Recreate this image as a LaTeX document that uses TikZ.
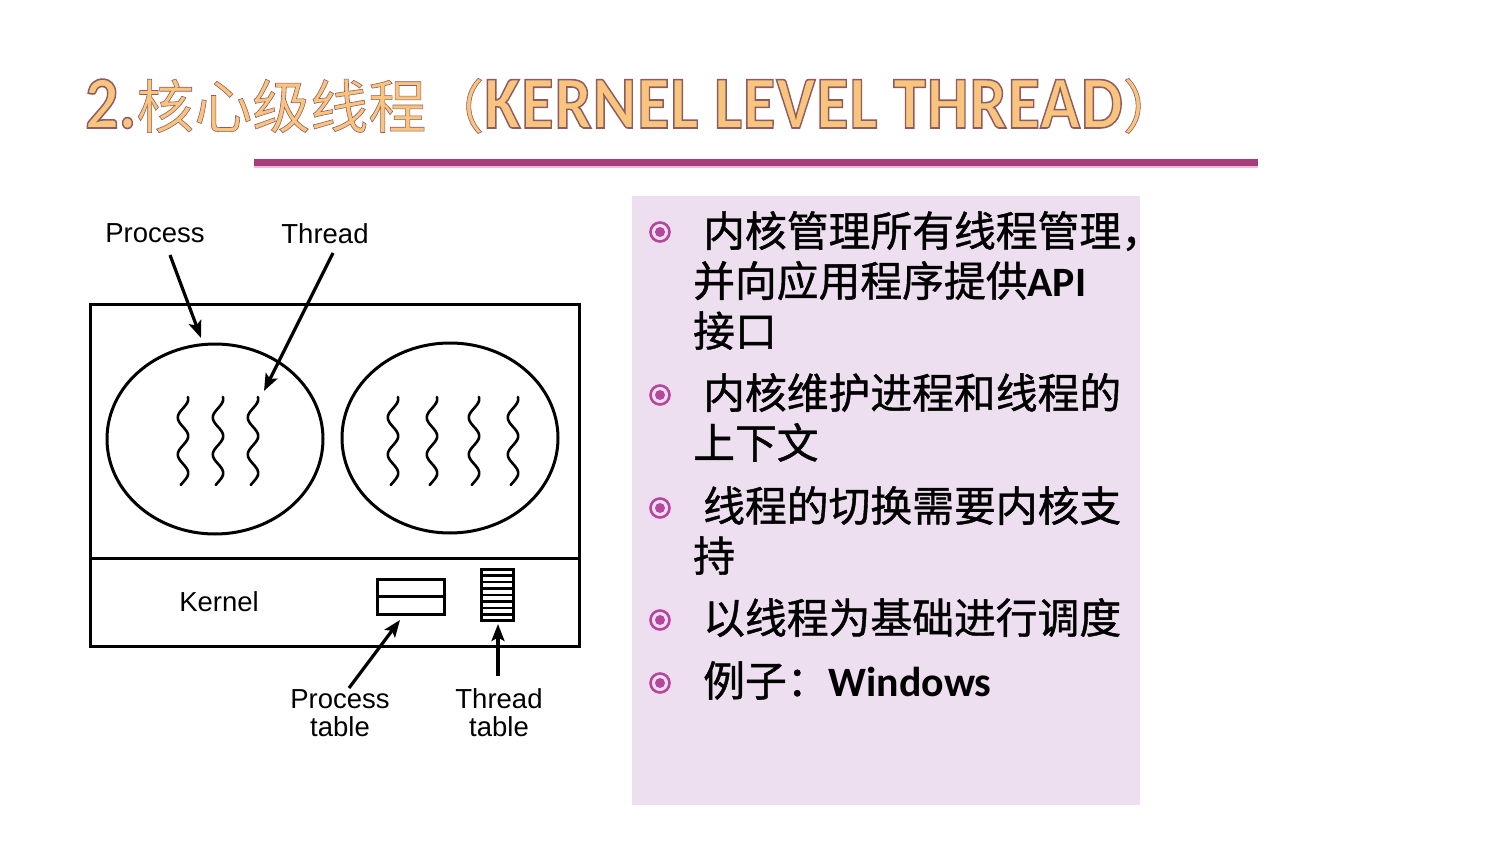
\documentclass[tikz,border=0pt]{standalone}
\usepackage{fontspec}
\usepackage{graphicx}
\usetikzlibrary{arrows.meta,shapes.geometric}
\setmainfont{Liberation Sans}
\newfontfamily\cjkbody[FakeBold=1]{Noto Sans CJK SC}
\newfontfamily\calfont{Carlito}

\definecolor{titlefill}{HTML}{F9C47E}
\definecolor{barcol}{HTML}{A63C79}
\definecolor{barglow}{HTML}{F2B8DC}
\definecolor{panelcol}{HTML}{EEDFF0}
\definecolor{bulletcol}{HTML}{B3489E}

% filled glyphs with a thin dark outline (text render mode 2)
\newcommand\rimmed[1]{\special{pdf:code 2 Tr 1.4 w 0.55 0.36 0.38 RG}#1\special{pdf:code 0 Tr}}

% heading, mixed CJK / Latin
\newcommand\headline{%
  {\calfont\bfseries\fontsize{66}{70}\selectfont\scalebox{1}[1.13]{\rimmed{2.}}}%
  {\cjkbody\fontsize{58}{60}\selectfont \rimmed{核心级线程（}}%
  {\calfont\bfseries\fontsize{66}{70}\selectfont\addfontfeature{LetterSpace=1.5}\scalebox{1}[1.13]{\rimmed{KERNEL LEVEL THREAD}}}%
  {\cjkbody\fontsize{58}{60}\selectfont \rimmed{）}}}

\tikzset{
  heading/.style={anchor=base west, inner sep=0pt},
  boxline/.style={draw=black, line width=3pt, inner sep=0pt},
  procshape/.style={ellipse, draw=black, line width=3pt, minimum width=216pt, minimum height=190pt, inner sep=0pt},
  squigline/.style={line width=2.6pt, line cap=round},
  arr/.style={line width=3.2pt, -{Stealth[length=17pt,width=13pt,inset=3.5pt]}},
  lbl/.style={font=\fontsize{27.5}{31}\selectfont, inner sep=0pt, align=center},
  tabline/.style={line width=2.6pt},
  bulletmark/.style={circle, draw=bulletcol, line width=2.6pt, minimum size=19pt, inner sep=0pt,
    path picture={\fill[bulletcol] (path picture bounding box.center) circle (5pt);}},
  item/.style={anchor=north west, inner sep=0pt, align=left,
    font=\cjkbody\fontsize{41.8}{50}\selectfont},
}
\newcommand\latinbold[1]{{\calfont\bfseries #1}}
\newcommand\squig[1]{\draw[squigline] plot[domain=0:88,samples=70,smooth] ({#1+5.2*sin(\x*9.73+70)},{397+\x});}

\begin{document}
\begin{tikzpicture}[x=1pt,y=-1pt]
\fill[white] (0,0) rectangle (1500,843);
\useasboundingbox (0,0) rectangle (1500,843);

% heading
\node[heading, text=titlefill] (title) at (85,128) {\headline};

% rule under the heading
\fill[barcol] (254,159) rectangle (1258,165.5);
\fill[barglow] (254,165.5) rectangle (1258,168);

% text panel
\node[fill=panelcol, minimum width=508pt, minimum height=609pt, anchor=north west, inner sep=0pt] (panel) at (632,196) {};

\node[bulletmark] (m1) at (660,232) {};
\node[bulletmark] (m2) at (660,395) {};
\node[bulletmark] (m3) at (660,508) {};
\node[bulletmark] (m4) at (660,620) {};
\node[bulletmark] (m5) at (660,683) {};

\node[item] (t1) at (693,211) {\hspace{10pt}内核管理所有线程管理，\\并向应用程序提供\latinbold{API}\\接口};
\node[item] (t2) at (693,373) {\hspace{10pt}内核维护进程和线程的\\上下文};
\node[item] (t3) at (693,486) {\hspace{10pt}线程的切换需要内核支\\持};
\node[item] (t4) at (693,598) {\hspace{10pt}以线程为基础进行调度};
\node[item] (t5) at (693,661) {\hspace{10pt}例子：\latinbold{Windows}};

% user space and kernel space
\node[boxline, minimum width=489pt, minimum height=254pt, anchor=north west] (user) at (89,303) {};
\node[boxline, minimum width=489pt, minimum height=88pt, anchor=north west] (kernel) at (89,557) {};

% processes with their threads
\node[procshape] (p1) at (215,439) {};
\node[procshape] (p2) at (450,438) {};
\squig{183}\squig{218}\squig{253}
\squig{393}\squig{432}\squig{474}\squig{513}

% tables in the kernel
\node[draw=black, line width=3pt, minimum width=67pt, minimum height=35pt, inner sep=0pt] (ptab) at (410.5,596.5) {};
\draw[tabline] (ptab.west) -- (ptab.east);
\node[draw=black, line width=3pt, minimum width=32pt, minimum height=51pt, inner sep=0pt] (ttab) at (497,594.5) {};
\foreach \yy in {575.5,582,588.5,595,601.5,608,614.5}
  \draw[tabline] (481,\yy) -- (513,\yy);

% labels
\node[lbl] (lproc) at (155,233) {Process};
\node[lbl] (lthr) at (325,234) {Thread};
\node[lbl] (lkern) at (219,602) {Kernel};
\node[lbl] (lptab) at (340,713) {Process\\[-3pt]table};
\node[lbl] (lttab) at (499,713) {Thread\\[-3pt]table};

% pointers
\coordinate (aP0) at (170,255); \coordinate (aP1) at (201,338);
\coordinate (aT0) at (333,253); \coordinate (aT1) at (264,391);
\coordinate (aPT0) at (349,688); \coordinate (aPT1) at (400,620);
\coordinate (aTT0) at (498,676); \coordinate (aTT1) at (498,624);
\draw[arr] (aP0) -- (aP1);
\draw[arr] (aT0) -- (aT1);
\draw[arr] (aPT0) -- (aPT1);
\draw[arr] (aTT0) -- (aTT1);
\end{tikzpicture}
\end{document}
